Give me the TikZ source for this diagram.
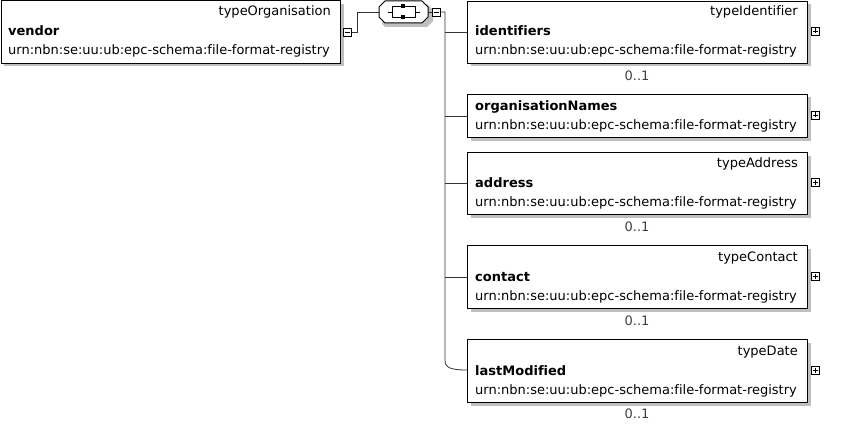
\documentclass[tikz,border=0pt]{standalone}
\usepackage{fontspec}
\setmainfont[Ligatures=NoCommon]{DejaVu Sans}
\begin{document}
\begin{tikzpicture}[x=1pt,y=-1pt,
  elbox/.style={draw=black,line width=1pt,fill=white},
  shadowbox/.style={fill=black!25,draw=none},
  typetxt/.style={anchor=base east,inner sep=0pt,font=\fontsize{13}{15}\selectfont,text=black},
  nametxt/.style={anchor=base west,inner sep=0pt,font=\fontsize{13}{15}\selectfont\bfseries},
  urntxt/.style={anchor=base west,inner sep=0pt,font=\fontsize{13}{15}\selectfont},
  occtxt/.style={anchor=base,inner sep=0pt,font=\fontsize{13}{15}\selectfont,text=black!75},
  conn/.style={draw=black!80,line width=0.8pt},
  togbox/.style={draw=black,line width=0.8pt,fill=white,minimum size=8pt,inner sep=0pt,rectangle}]
\useasboundingbox (0,0) rectangle (848,425);

% ---------- vendor ----------
\fill[shadowbox] (4,4) rectangle (343.5,66.5);
\node[elbox,minimum width=339.5pt,minimum height=62.5pt,anchor=north west,inner sep=0pt] (vendor) at (0.5,0.5) {};
\node[typetxt] (vendorT) at (331,16) {typeOrganisation};
\node[nametxt] (vendorN) at (8,36) {vendor};
\node[urntxt] (vendorU) at (8,55) {urn:nbn:se:uu:ub:epc-schema:file-format-registry};
\node[togbox] (vmin) at (347.5,32) {};
\draw[line width=0.8pt] (345,32) -- (350,32);

% ---------- sequence ----------
\fill[shadowbox] (385,4) -- (427,4) -- (433,10) -- (433,21) -- (427,27) -- (385,27) -- (382,24) -- (382,10) -- cycle;
\draw[line width=1pt,fill=white] (385,1) -- (422,1) -- (428,7) -- (428,17) -- (422,23) -- (385,23) -- (379,17) -- (379,7) -- cycle;
\coordinate (seqL) at (379,12);
\coordinate (seqR) at (428,12);
\draw[line width=0.9pt] (388,12) -- (392,12) (415,12) -- (420,12);
\draw[line width=0.9pt] (392,6) rectangle (415,17);
\fill (401,4) rectangle (405,8);
\fill (401,15) rectangle (405,19);
\node[togbox] (smin) at (436,12) {};
\draw[line width=0.8pt] (433.5,12) -- (438.5,12);

\draw[conn] (vmin.east) -- (357,32) -- (357,12) -- (seqL);
\draw[conn] (seqR) -- (smin.west);

% ---------- children ----------
% identifiers
\fill[shadowbox] (470.5,4.5) rectangle (810.5,66.5);
\node[elbox,minimum width=340pt,minimum height=62pt,anchor=north west,inner sep=0pt] (ident) at (467,1) {};
\node[typetxt] at (798,16) {typeIdentifier};
\node[nametxt] at (475,36) {identifiers};
\node[urntxt] at (475,55) {urn:nbn:se:uu:ub:epc-schema:file-format-registry};
\node[occtxt] (identO) at (637,81) {0..1};
\node[togbox] (identP) at (815.5,31) {};

% organisationNames
\fill[shadowbox] (470.5,97.5) rectangle (810.5,140.5);
\node[elbox,minimum width=340pt,minimum height=43pt,anchor=north west,inner sep=0pt] (orgn) at (467,94) {};
\node[nametxt] at (475,111) {organisationNames};
\node[urntxt] at (475,130) {urn:nbn:se:uu:ub:epc-schema:file-format-registry};
\node[togbox] (orgnP) at (815.5,115) {};

% address
\fill[shadowbox] (470.5,155.5) rectangle (810.5,217.5);
\node[elbox,minimum width=340pt,minimum height=62pt,anchor=north west,inner sep=0pt] (addr) at (467,152) {};
\node[typetxt] at (798,167) {typeAddress};
\node[nametxt] at (475,187) {address};
\node[urntxt] at (475,206) {urn:nbn:se:uu:ub:epc-schema:file-format-registry};
\node[occtxt] (addrO) at (637,231) {0..1};
\node[togbox] (addrP) at (815.5,182) {};

% contact
\fill[shadowbox] (470.5,248.5) rectangle (810.5,311.5);
\node[elbox,minimum width=340pt,minimum height=63pt,anchor=north west,inner sep=0pt] (cont) at (467,245) {};
\node[typetxt] at (798,261) {typeContact};
\node[nametxt] at (475,281) {contact};
\node[urntxt] at (475,300) {urn:nbn:se:uu:ub:epc-schema:file-format-registry};
\node[occtxt] (contO) at (637,325) {0..1};
\node[togbox] (contP) at (815.5,276) {};

% lastModified
\fill[shadowbox] (470.5,342.5) rectangle (810.5,405.5);
\node[elbox,minimum width=340pt,minimum height=63pt,anchor=north west,inner sep=0pt] (lastm) at (467,339) {};
\node[typetxt] at (798,355) {typeDate};
\node[nametxt] at (475,375) {lastModified};
\node[urntxt] at (475,394) {urn:nbn:se:uu:ub:epc-schema:file-format-registry};
\node[occtxt] (lastmO) at (637,418) {0..1};
\node[togbox] (lastmP) at (815.5,370) {};

% plus signs
\foreach \p in {identP,orgnP,addrP,contP,lastmP}{
  \draw[line width=0.8pt] ([xshift=-2.5pt]\p.center) -- ([xshift=2.5pt]\p.center);
  \draw[line width=0.8pt] ([yshift=-2.5pt]\p.center) -- ([yshift=2.5pt]\p.center);
}

% ---------- connectors ----------
\coordinate (trunk) at (445,12);
\draw[conn] (smin.east) -- (trunk) -- (445,360) .. controls (445,367) and (449,370) .. (lastm.west |- 0,370);
\draw[conn] (445,32) -- (ident.west |- 0,32);
\draw[conn] (445,116) -- (orgn.west |- 0,116);
\draw[conn] (445,183) -- (addr.west |- 0,183);
\draw[conn] (445,277) -- (cont.west |- 0,277);
\end{tikzpicture}
\end{document}
